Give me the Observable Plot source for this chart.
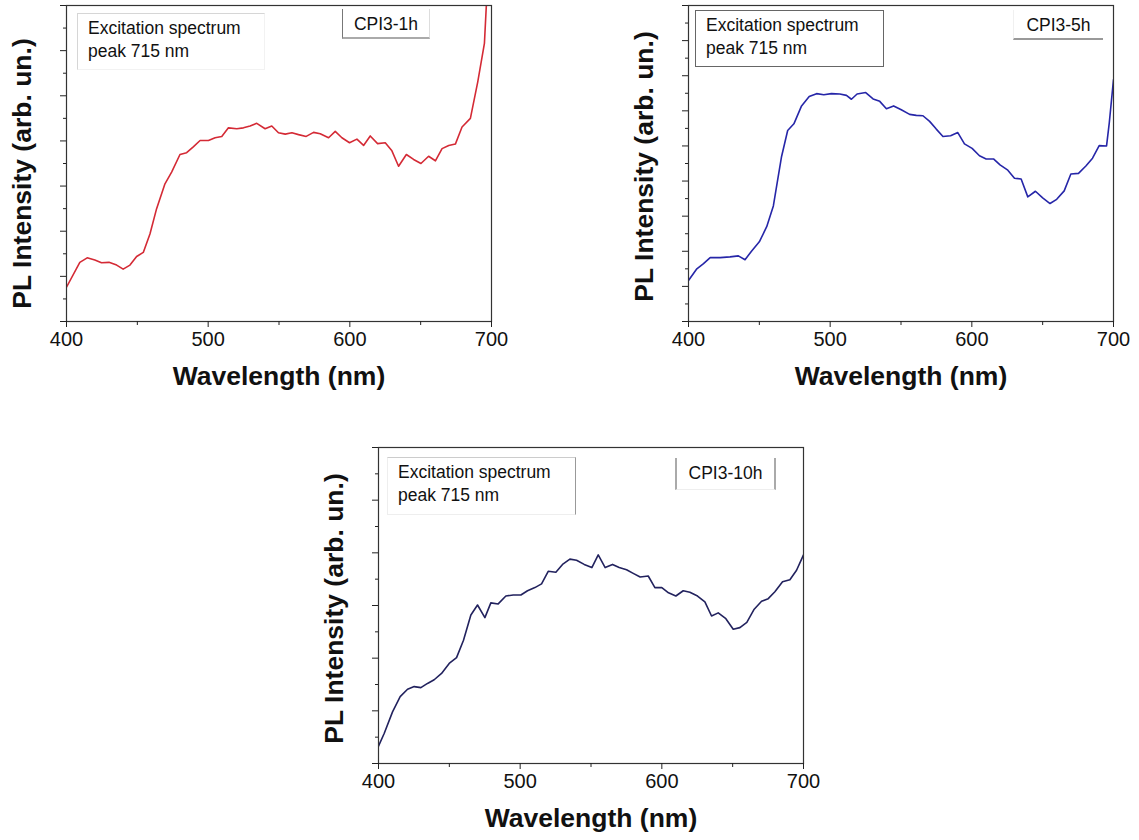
<!DOCTYPE html>
<html>
<head>
<meta charset="utf-8">
<script src="https://cdn.jsdelivr.net/npm/d3@7"></script>
<script src="https://cdn.jsdelivr.net/npm/@observablehq/plot@0.6"></script>
<style>
  html, body { margin: 0; padding: 0; background: #fff; }
  body { width: 1139px; height: 840px; position: relative; overflow: hidden; font-family: Arial, "Liberation Sans", sans-serif; }
  .panel { position: absolute; }
  .box { position: absolute; box-sizing: border-box; font-size: 17.5px; line-height: 23px; color: #111; white-space: nowrap; }
</style>
</head>
<body>
<script>
// ---- Data ----
const xTicks = [400, 500, 600, 700];
const xMinorTicks = [450, 550, 650];
const xLabel = "Wavelength (nm)";
const yLabel = "PL Intensity (arb. un.)";
const boxText = ["Excitation spectrum", "peak 715 nm"];
const sampleNames = ["CPI3-1h", "CPI3-5h", "CPI3-10h"];

// CPI3-1h (red)
const wl1 = [400,409.4,414.6,420,424.7,430,435.4,440,444.8,449.5,454.2,458.9,463.6,469.5,474.2,480.1,484.8,489.5,494.3,500.2,504.9,509.6,514.3,520.2,524.9,529.6,534.3,540.2,544.9,549.6,554.4,559.1,563.8,569.2,574.4,579.1,585,589.7,594.4,599.8,605,609.7,614.4,619.6,625,629.7,634.4,639.9,645,650.2,655.6,660.4,665.1,669.8,674.5,679.2,685.1,690.3,695,697];
const pl1 = [0.76,1.31,1.41,1.36,1.30,1.31,1.25,1.16,1.25,1.44,1.53,1.94,2.50,3.05,3.31,3.70,3.74,3.87,4.01,4.01,4.07,4.10,4.29,4.27,4.29,4.33,4.39,4.27,4.33,4.18,4.15,4.18,4.14,4.10,4.19,4.16,4.07,4.21,4.07,3.96,4.04,3.90,4.11,3.94,3.96,3.78,3.44,3.70,3.59,3.50,3.66,3.56,3.83,3.90,3.93,4.31,4.50,5.31,6.16,7.4];

// CPI3-5h (blue)
const wl2 = [400,405.9,410.6,415.3,422.3,429.3,435.2,439.9,444.6,450,455.2,459.9,462.7,465.7,470,474.4,479.8,485.2,490.4,495.5,500.9,506.8,511.5,515,519,525.1,530.3,535,539.7,544.8,550.2,556.1,560.8,565.5,570.2,574.9,579.6,585,590.1,594.8,600.2,605.4,610.1,615.3,619.9,625.4,630.1,634.8,639.5,644.9,650,655.2,659.9,665.2,669.9,675.3,680.5,685.2,689.9,695.1,697,700];
const pl2 = [1.17,1.50,1.65,1.82,1.82,1.84,1.87,1.76,2.01,2.27,2.70,3.29,3.98,4.70,5.44,5.63,6.14,6.41,6.49,6.46,6.49,6.48,6.44,6.33,6.48,6.52,6.34,6.27,6.06,6.14,6.03,5.90,5.87,5.86,5.70,5.48,5.27,5.29,5.38,5.06,4.93,4.72,4.63,4.63,4.46,4.31,4.08,4.06,3.55,3.71,3.52,3.36,3.48,3.72,4.20,4.22,4.43,4.65,5.01,5.00,5.65,6.89];

// CPI3-10h (navy)
const wl3 = [400,404,409.9,415.3,420.5,425.2,429.9,434.6,439.3,444.5,449.9,455.1,460,465.2,469.9,475.1,479.3,484.5,489.9,495.1,500.5,505.2,510.4,515.1,519.8,525.2,529.9,535.1,539.8,545.2,550.6,555.1,560,565.2,569.9,575.1,579.8,584.7,590.4,595.1,600,604.7,609.9,615.1,619.8,625.2,630.4,635.1,639.8,645.2,650.4,655.1,660,665.2,670.4,675.1,679.8,685.2,690.4,695.1,700];
const pl3 = [0.33,0.57,0.98,1.27,1.41,1.46,1.44,1.52,1.59,1.71,1.90,2.01,2.34,2.82,3.01,2.77,3.05,3.03,3.18,3.20,3.20,3.28,3.34,3.41,3.65,3.63,3.78,3.88,3.86,3.78,3.72,3.96,3.72,3.78,3.72,3.68,3.61,3.54,3.56,3.34,3.34,3.24,3.18,3.28,3.25,3.18,3.07,2.80,2.86,2.75,2.55,2.58,2.68,2.93,3.08,3.13,3.26,3.45,3.49,3.67,3.96];

// ---- Layout ----
const FW = 425, FH = 316;
const M = {top: 5, right: 20, bottom: 70, left: 66};

const panels = [
  {wl: wl1, pl: pl1, yMax: 7, color: "#d42a35", left: 0, top: 0, yDy: 10, name: sampleNames[0],
   box: {l: 11, t: 8, w: 188, h: 57, border: "1px solid #d6d6d6", borderRight: "1px solid #f2f2f2", borderBottom: "1px solid #f2f2f2"},
   tag: {l: 276, t: 4, w: 88, h: 30, border: "none", borderLeft: "1px solid #777", borderBottom: "2px solid #aaa", borderRight: "1px solid #ddd"}},
  {wl: wl2, pl: pl2, yMax: 9, color: "#2626a8", left: 622, top: 0, yDy: 3, name: sampleNames[1],
   box: {l: 7, t: 5, w: 189, h: 57, border: "1px solid #666"},
   tag: {l: 325, t: 5, w: 90, h: 30, border: "none", borderBottom: "2px solid #999", borderLeft: "1px solid #f0f0f0"}},
  {wl: wl3, pl: pl3, yMax: 6, color: "#22225e", left: 312, top: 442, yDy: 3, name: sampleNames[2],
   box: {l: 9, t: 10, w: 189, h: 58, border: "1px solid #eee", borderRight: "1px solid #999", borderTop: "1px solid #ccc"},
   tag: {l: 297, t: 11, w: 101, h: 32, border: "none", borderLeft: "2px solid #aaa", borderRight: "2px solid #aaa", borderBottom: "1px solid #eee"}}
];

function range(a, b, s) { const r = []; for (let v = a; v <= b + 1e-9; v += s) r.push(+v.toFixed(3)); return r; }

for (const p of panels) {
  const data = p.wl.map((w, i) => ({w, v: p.pl[i]}));
  const chart = Plot.plot({
    width: M.left + FW + M.right,
    height: M.top + FH + M.bottom,
    marginTop: M.top, marginRight: M.right, marginBottom: M.bottom, marginLeft: M.left,
    style: {fontFamily: "Arial, 'Liberation Sans', sans-serif", fontSize: "20px", color: "#111", background: "transparent", overflow: "visible"},
    x: {domain: [400, 700], axis: null},
    y: {domain: [0, p.yMax], axis: null},
    marks: [
      Plot.line(data, {x: "w", y: "v", stroke: p.color, strokeWidth: 1.6, clip: true}),
      Plot.frame({stroke: "#333", strokeWidth: 1.2}),
      Plot.axisX({ticks: xTicks, tickSize: 6, tickPadding: 4, tickFormat: d => String(d), fontSize: 20, stroke: "#222", label: null}),
      Plot.axisX({ticks: xMinorTicks, tickSize: 4, tickFormat: () => "", stroke: "#222", label: null}),
      Plot.axisY({ticks: range(0, p.yMax, 1), tickSize: 6, tickFormat: () => "", stroke: "#222", label: null}),
      Plot.axisY({ticks: range(0.5, p.yMax, 1), tickSize: 3, tickFormat: () => "", stroke: "#222", label: null}),
      Plot.text([xLabel], {frameAnchor: "bottom", text: d => d, textAnchor: "middle", lineAnchor: "middle", dy: 55, fontSize: 26.5, fontWeight: "bold", fill: "#111"}),
      Plot.text([yLabel], {frameAnchor: "left", text: d => d, textAnchor: "middle", lineAnchor: "middle", rotate: -90, dx: -44, dy: p.yDy, fontSize: 26.5, fontWeight: "bold", fill: "#111"})
    ]
  });
  const wrap = document.createElement("div");
  wrap.className = "panel";
  wrap.style.left = p.left + "px";
  wrap.style.top = p.top + "px";
  wrap.appendChild(chart);

  const fx = M.left, fy = M.top;
  const b = document.createElement("div");
  b.className = "box";
  Object.assign(b.style, {left: (fx + p.box.l) + "px", top: (fy + p.box.t) + "px", width: p.box.w + "px", height: p.box.h + "px",
    border: p.box.border, padding: "3px 0 0 10px"});
  if (p.box.borderRight) b.style.borderRight = p.box.borderRight;
  if (p.box.borderBottom) b.style.borderBottom = p.box.borderBottom;
  if (p.box.borderTop) b.style.borderTop = p.box.borderTop;
  b.innerHTML = boxText.map(t => `<div>${t}</div>`).join("");
  wrap.appendChild(b);

  const t = document.createElement("div");
  t.className = "box";
  Object.assign(t.style, {left: (fx + p.tag.l) + "px", top: (fy + p.tag.t) + "px", width: p.tag.w + "px", height: p.tag.h + "px",
    border: p.tag.border, textAlign: "center", paddingTop: "4px", fontSize: "17.5px"});
  for (const k of ["borderLeft", "borderRight", "borderBottom"]) if (p.tag[k]) t.style[k] = p.tag[k];
  t.textContent = p.name;
  wrap.appendChild(t);

  document.body.appendChild(wrap);
}
</script>
</body>
</html>
